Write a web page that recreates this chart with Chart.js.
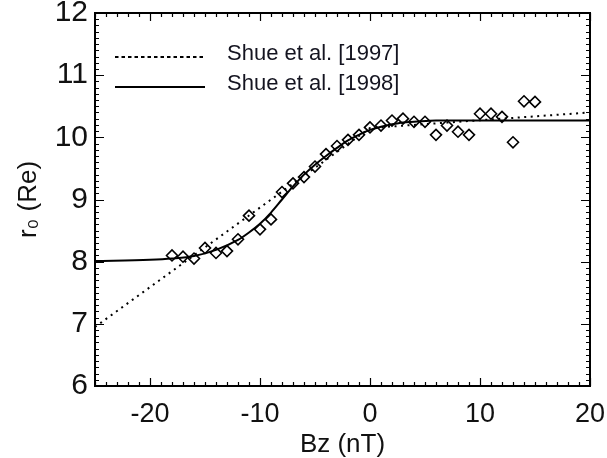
<!DOCTYPE html>
<html>
<head>
<meta charset="utf-8">
<script src="https://cdn.jsdelivr.net/npm/chart.js@4"></script>
<style>
  html, body { margin: 0; padding: 0; background: #fff; }
  #wrap { width: 607px; height: 458px; position: relative; }
</style>
</head>
<body>
<div id="wrap"><canvas id="chart"></canvas></div>
<script>
// Observed magnetopause subsolar distance vs IMF Bz
const bzObs = [-18, -17, -16, -15, -14, -13, -12, -11, -10, -9, -8, -7, -6, -5, -4, -3, -2,
               -1, 0, 1, 2, 3, 4, 5, 6, 7, 8, 9, 10, 11, 12, 13, 14, 15];
const r0Obs = [8.10, 8.08, 8.05, 8.22, 8.14, 8.17, 8.36, 8.74, 8.52, 8.68, 9.12, 9.26, 9.36, 9.53, 9.73, 9.86, 9.96,
               10.04, 10.16, 10.19, 10.27, 10.30, 10.25, 10.25, 10.04, 10.19, 10.09, 10.04, 10.38, 10.38, 10.33, 9.92, 10.58, 10.57];

// Shue et al. [1997] model curve
const bz1997 = [-25, 0, 20];
const r01997 = [6.95, 10.15, 10.40];

// Shue et al. [1998] model curve
const bz1998 = [-25, -20, -18, -16, -14, -12, -11, -10, -9, -8, -7, -6, -5, -4, -3, -2, -1, 0, 1, 2, 3, 4, 6, 10, 15, 20];
const r01998 = [8.01, 8.03, 8.05, 8.09, 8.19, 8.35, 8.47, 8.61, 8.79, 9.00, 9.21, 9.40, 9.56, 9.70, 9.83, 9.95, 10.04, 10.12, 10.17, 10.21, 10.24, 10.25, 10.27, 10.27, 10.27, 10.27];

const xTicks = [-20, -10, 0, 10, 20];
const yTicks = [6, 7, 8, 9, 10, 11, 12];

const FONT = '"Liberation Sans", Arial, Helvetica, sans-serif';
const toXY = (xs, ys) => xs.map((v, i) => ({ x: v, y: ys[i] }));

// box with inward major/minor ticks on all four sides
const frameTicks = {
    id: 'frameTicks',
    afterDraw(chart) {
        const { ctx, chartArea: a, scales: { x, y } } = chart;
        ctx.save();
        ctx.strokeStyle = '#000';
        ctx.lineWidth = 1.2;
        ctx.beginPath();
        for (let v = x.min; v <= x.max; v += 1) {
            const px = Math.round(x.getPixelForValue(v)) + 0.5;
            const len = v % 10 === 0 ? 8 : 4;
            ctx.moveTo(px, a.bottom); ctx.lineTo(px, a.bottom - len);
            ctx.moveTo(px, a.top); ctx.lineTo(px, a.top + len);
        }
        for (let i = 0; i <= (y.max - y.min) * 10; i++) {
            const py = Math.round(y.getPixelForValue(y.min + i / 10)) + 0.5;
            const len = i % 10 === 0 ? 9 : 4;
            ctx.moveTo(a.left, py); ctx.lineTo(a.left + len, py);
            ctx.moveTo(a.right, py); ctx.lineTo(a.right - len, py);
        }
        ctx.stroke();
        ctx.lineWidth = 2;
        ctx.strokeRect(a.left, a.top, a.right - a.left, a.bottom - a.top);
        ctx.restore();
    }
};

// legend in the upper left corner of the plot
const lineLegend = {
    id: 'lineLegend',
    afterDraw(chart) {
        const { ctx } = chart;
        const rows = chart.data.datasets.filter(d => d.inLegend);
        ctx.save();
        rows.forEach((d, i) => {
            const yLine = 57 + i * 30;
            ctx.strokeStyle = '#000';
            ctx.lineWidth = d.borderWidth;
            ctx.setLineDash(d.legendDash || []);
            ctx.beginPath();
            ctx.moveTo(115, yLine);
            ctx.lineTo(205, yLine);
            ctx.stroke();
            ctx.setLineDash([]);
            ctx.fillStyle = '#141420';
            ctx.font = '22px ' + FONT;
            ctx.textBaseline = 'alphabetic';
            ctx.fillText(d.label, 227, yLine + 3);
        });
        ctx.restore();
    }
};

new Chart(document.getElementById('chart'), {
    type: 'line',
    data: {
        datasets: [
            {
                label: 'Shue et al. [1997]',
                data: toXY(bz1997, r01997),
                borderColor: '#000',
                borderWidth: 2,
                borderDash: [2, 4.5],
                legendDash: [3.5, 3],
                pointRadius: 0,
                tension: 0,
                inLegend: true
            },
            {
                label: 'Shue et al. [1998]',
                data: toXY(bz1998, r01998),
                borderColor: '#000',
                borderWidth: 2,
                pointRadius: 0,
                cubicInterpolationMode: 'monotone',
                inLegend: true
            },
            {
                label: 'Observations',
                data: toXY(bzObs, r0Obs),
                showLine: false,
                pointStyle: 'rectRot',
                pointRadius: 5.5,
                pointBorderWidth: 1.6,
                pointBorderColor: '#000',
                pointBackgroundColor: 'rgba(0,0,0,0)'
            }
        ]
    },
    options: {
        responsive: true,
        maintainAspectRatio: false,
        animation: false,
        layout: { padding: { top: 13, right: 17, left: 0, bottom: 0 } },
        plugins: { legend: { display: false }, tooltip: { enabled: false } },
        scales: {
            x: {
                type: 'linear',
                min: -25,
                max: 20,
                afterBuildTicks: s => { s.ticks = xTicks.map(v => ({ value: v })); },
                afterFit: s => { s.height = 72; s.paddingLeft = 0; s.paddingRight = 0; },
                grid: { display: false, drawTicks: false },
                border: { display: false },
                ticks: { color: '#111', padding: 12, maxRotation: 0, font: { family: FONT, size: 27 } },
                title: {
                    display: true,
                    text: 'Bz (nT)',
                    color: '#111',
                    padding: { top: 0, bottom: 0 },
                    font: { family: FONT, size: 26, lineHeight: 1 }
                }
            },
            y: {
                type: 'linear',
                min: 6,
                max: 12,
                afterBuildTicks: s => { s.ticks = yTicks.map(v => ({ value: v })); },
                afterFit: s => { s.width = 95; s.paddingTop = 0; s.paddingBottom = 0; },
                grid: { display: false, drawTicks: false },
                border: { display: false },
                ticks: { color: '#111', padding: 7, font: { family: FONT, size: 30 } },
                title: {
                    display: true,
                    text: 'r₀ (Re)',
                    color: '#111',
                    padding: { top: 13, bottom: 0 },
                    font: { family: FONT, size: 26 }
                }
            }
        }
    },
    plugins: [frameTicks, lineLegend]
});
</script>
</body>
</html>
